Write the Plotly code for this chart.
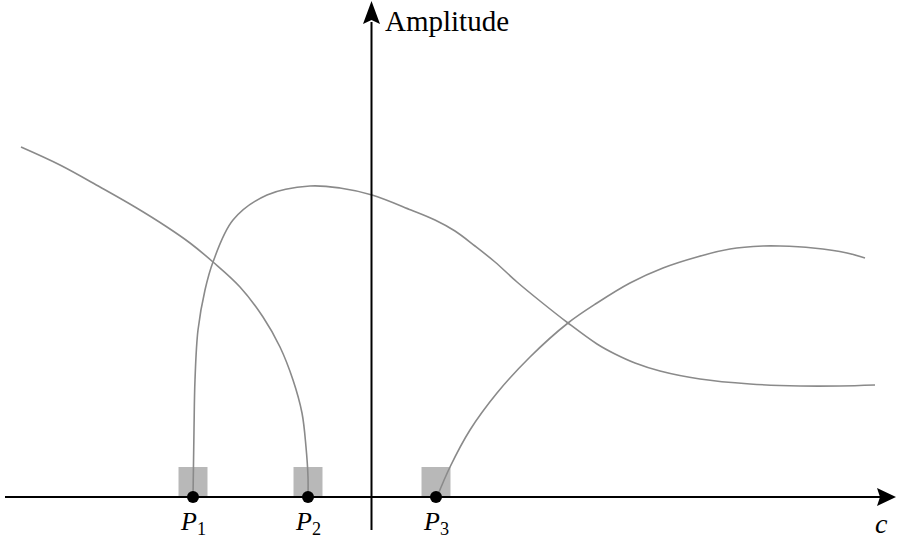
import plotly.graph_objects as go

# curve values (c along x, amplitude along y)
c1 = [-3.50, -3.11, -2.71, -2.36, -2.04, -1.81, -1.58, -1.31, -1.08, -0.91,
      -0.78, -0.69, -0.65, -0.63, -0.63]
a1 = [3.50, 3.32, 3.10, 2.90, 2.70, 2.54, 2.35, 2.10, 1.80, 1.50,
      1.17, 0.84, 0.50, 0.20, 0.00]

c2 = [-1.78, -1.77, -1.76, -1.73, -1.66, -1.58, -1.38, -1.04, -0.61, -0.31, 0.01,
      0.40, 0.64, 0.84, 1.04, 1.24, 1.46, 1.69, 1.97, 2.26, 2.44, 2.64, 2.89,
      3.29, 3.79, 4.29, 4.69, 5.04]
a2 = [0.00, 0.67, 1.17, 1.67, 2.07, 2.35, 2.77, 3.02, 3.11, 3.09, 3.02,
      2.87, 2.77, 2.66, 2.51, 2.35, 2.15, 1.96, 1.74, 1.53, 1.43, 1.34, 1.26,
      1.18, 1.13, 1.11, 1.11, 1.12]

c3 = [0.66, 0.79, 0.99, 1.26, 1.59, 1.97, 2.26, 2.59, 2.92, 3.26, 3.59,
      3.92, 4.09, 4.42, 4.76, 4.94]
a3 = [0.00, 0.30, 0.67, 1.04, 1.40, 1.74, 1.94, 2.14, 2.29, 2.40, 2.48,
      2.51, 2.51, 2.49, 2.44, 2.39]

p_pos = [-1.78, -0.63, 0.65]
p_labels = ["<i>P</i><sub>1</sub>", "<i>P</i><sub>2</sub>", "<i>P</i><sub>3</sub>"]

curve_col = "#8a8a8a"
box_col = "#b8b8b8"
serif = "Liberation Serif, Times New Roman, DejaVu Serif, serif"

fig = go.Figure()

shapes = []
# grey boxes over the points
for p in p_pos:
    shapes.append(dict(type="rect", x0=p - 0.145, x1=p + 0.145, y0=0, y1=0.30,
                       fillcolor=box_col, line_width=0, layer="below"))
# axes
shapes.append(dict(type="line", x0=-3.66, x1=5.10, y0=0, y1=0,
                   line=dict(color="black", width=2)))
shapes.append(dict(type="line", x0=0.005, x1=0.005, y0=-0.33, y1=4.75,
                   line=dict(color="black", width=2)))
# arrow heads
shapes.append(dict(type="path",
                   path="M 5.25 0 L 5.06 0.09 L 5.09 0 L 5.06 -0.09 Z",
                   fillcolor="black", line_width=0))
shapes.append(dict(type="path",
                   path="M 0.005 4.96 L -0.08 4.73 L 0.005 4.77 L 0.09 4.73 Z",
                   fillcolor="black", line_width=0))

for cx, ay in [(c1, a1), (c2, a2), (c3, a3)]:
    fig.add_trace(go.Scatter(x=cx, y=ay, mode="lines",
                             line=dict(color=curve_col, width=1.6, shape="spline", smoothing=1.0),
                             hoverinfo="skip"))

fig.add_trace(go.Scatter(x=p_pos, y=[0] * len(p_pos), mode="markers",
                         marker=dict(color="black", size=12), hoverinfo="skip"))

annotations = []
for p, lab in zip(p_pos, p_labels):
    annotations.append(dict(x=p, y=-0.26, text=lab, showarrow=False,
                            font=dict(family=serif, size=26, color="black")))
annotations.append(dict(x=0.12, y=4.76, text="Amplitude", showarrow=False, xanchor="left",
                        font=dict(family=serif, size=29, color="black")))
annotations.append(dict(x=5.10, y=-0.26, text="<i>c</i>", showarrow=False,
                        font=dict(family=serif, size=28, color="black")))

fig.update_layout(width=897, height=544, margin=dict(l=0, r=0, t=0, b=0),
                  plot_bgcolor="white", paper_bgcolor="white", showlegend=False,
                  shapes=shapes, annotations=annotations)
fig.update_xaxes(range=[-3.71, 5.26], visible=False)
fig.update_yaxes(range=[-0.47, 4.97], visible=False)

# page body has a default 8px margin, drop it so the figure fills the window
fig.write_html("out.html", config={"displayModeBar": False},
               post_script="document.body.style.margin='0';")
